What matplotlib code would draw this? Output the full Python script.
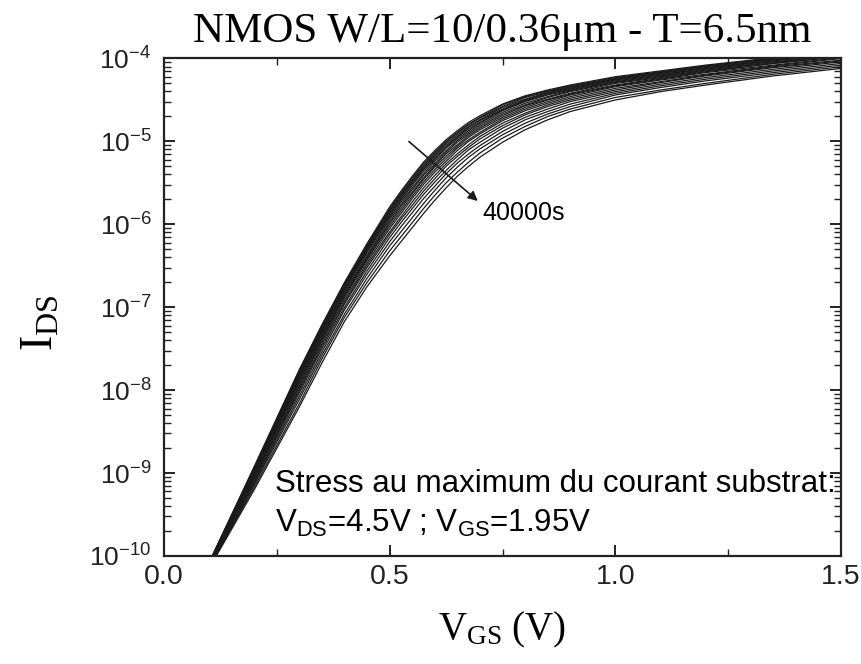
import numpy as np
import matplotlib
matplotlib.use("Agg")
from matplotlib import pyplot as plt
from matplotlib.ticker import MultipleLocator, LogLocator, FormatStrFormatter

#Data: V_GS grid and log10(I_DS) of each stress step (fresh -> 40000s)
vgs = [0.10, 0.20, 0.30, 0.35, 0.40, 0.45, 0.50, 0.525, 0.55, 0.575, 0.60, 0.625,
       0.65, 0.675, 0.70, 0.75, 0.80, 0.85, 0.90, 1.00, 1.10, 1.20, 1.35, 1.50]

log_ids = [
    [-10.08, -8.92, -7.75, -7.21, -6.70, -6.23, -5.79, -5.60, -5.42, -5.25, -5.11, -4.98, -4.87, -4.77, -4.69, -4.55, -4.45, -4.38, -4.32, -4.22, -4.15, -4.08, -3.99, -3.91],
    [-10.08, -8.93, -7.76, -7.22, -6.71, -6.25, -5.81, -5.62, -5.44, -5.27, -5.13, -5.00, -4.89, -4.79, -4.71, -4.56, -4.46, -4.39, -4.33, -4.23, -4.16, -4.09, -4.00, -3.92],
    [-10.08, -8.94, -7.78, -7.24, -6.73, -6.26, -5.83, -5.64, -5.46, -5.29, -5.15, -5.01, -4.90, -4.80, -4.72, -4.58, -4.47, -4.40, -4.34, -4.24, -4.17, -4.09, -4.00, -3.92],
    [-10.09, -8.95, -7.79, -7.25, -6.74, -6.28, -5.84, -5.65, -5.48, -5.31, -5.16, -5.03, -4.92, -4.82, -4.74, -4.59, -4.49, -4.41, -4.35, -4.25, -4.17, -4.10, -4.01, -3.93],
    [-10.09, -8.95, -7.80, -7.27, -6.76, -6.29, -5.86, -5.67, -5.49, -5.32, -5.18, -5.05, -4.94, -4.83, -4.75, -4.61, -4.50, -4.42, -4.36, -4.25, -4.18, -4.11, -4.02, -3.94],
    [-10.09, -8.96, -7.82, -7.28, -6.77, -6.31, -5.88, -5.69, -5.51, -5.34, -5.20, -5.07, -4.95, -4.85, -4.77, -4.62, -4.51, -4.43, -4.37, -4.26, -4.19, -4.12, -4.02, -3.94],
    [-10.09, -8.97, -7.83, -7.29, -6.78, -6.32, -5.90, -5.71, -5.53, -5.36, -5.22, -5.08, -4.97, -4.87, -4.78, -4.63, -4.52, -4.44, -4.38, -4.27, -4.20, -4.12, -4.03, -3.95],
    [-10.10, -8.98, -7.85, -7.31, -6.80, -6.34, -5.92, -5.73, -5.56, -5.39, -5.24, -5.11, -4.99, -4.89, -4.80, -4.65, -4.54, -4.46, -4.39, -4.28, -4.21, -4.13, -4.04, -3.96],
    [-10.10, -8.99, -7.87, -7.33, -6.82, -6.37, -5.94, -5.76, -5.58, -5.41, -5.27, -5.13, -5.01, -4.91, -4.82, -4.67, -4.56, -4.47, -4.40, -4.29, -4.22, -4.14, -4.05, -3.96],
    [-10.10, -9.00, -7.89, -7.35, -6.84, -6.39, -5.97, -5.78, -5.61, -5.44, -5.29, -5.15, -5.04, -4.93, -4.84, -4.69, -4.57, -4.49, -4.42, -4.30, -4.23, -4.15, -4.06, -3.97],
    [-10.10, -9.02, -7.90, -7.37, -6.86, -6.41, -5.99, -5.81, -5.63, -5.46, -5.31, -5.18, -5.06, -4.95, -4.86, -4.71, -4.59, -4.50, -4.43, -4.32, -4.24, -4.16, -4.06, -3.98],
    [-10.11, -9.03, -7.93, -7.39, -6.88, -6.43, -6.02, -5.84, -5.66, -5.49, -5.34, -5.21, -5.08, -4.98, -4.89, -4.73, -4.61, -4.52, -4.44, -4.33, -4.25, -4.17, -4.08, -3.99],
    [-10.11, -9.04, -7.95, -7.41, -6.91, -6.46, -6.05, -5.87, -5.69, -5.52, -5.37, -5.24, -5.11, -5.00, -4.91, -4.75, -4.63, -4.54, -4.46, -4.34, -4.26, -4.19, -4.09, -4.00],
    [-10.12, -9.06, -7.98, -7.44, -6.94, -6.49, -6.09, -5.91, -5.73, -5.56, -5.41, -5.27, -5.15, -5.04, -4.94, -4.78, -4.66, -4.56, -4.48, -4.36, -4.28, -4.20, -4.10, -4.02],
    [-10.12, -9.08, -8.00, -7.47, -6.96, -6.52, -6.12, -5.94, -5.77, -5.60, -5.45, -5.30, -5.18, -5.07, -4.97, -4.81, -4.68, -4.58, -4.50, -4.38, -4.29, -4.21, -4.11, -4.03],
    [-10.12, -9.10, -8.03, -7.50, -7.00, -6.56, -6.16, -5.98, -5.81, -5.64, -5.49, -5.35, -5.22, -5.10, -5.01, -4.84, -4.71, -4.61, -4.52, -4.40, -4.31, -4.23, -4.13, -4.04],
    [-10.13, -9.12, -8.07, -7.54, -7.03, -6.60, -6.21, -6.03, -5.86, -5.69, -5.54, -5.39, -5.26, -5.15, -5.05, -4.88, -4.74, -4.64, -4.55, -4.42, -4.33, -4.25, -4.15, -4.06],
    [-10.14, -9.14, -8.11, -7.58, -7.08, -6.65, -6.26, -6.09, -5.92, -5.75, -5.59, -5.44, -5.31, -5.19, -5.09, -4.92, -4.78, -4.67, -4.58, -4.44, -4.35, -4.27, -4.17, -4.08],
    [-10.14, -9.17, -8.16, -7.62, -7.12, -6.70, -6.32, -6.15, -5.98, -5.81, -5.65, -5.50, -5.37, -5.25, -5.14, -4.96, -4.82, -4.70, -4.61, -4.47, -4.38, -4.30, -4.19, -4.10],
    [-10.15, -9.20, -8.20, -7.67, -7.17, -6.75, -6.38, -6.21, -6.04, -5.87, -5.71, -5.56, -5.42, -5.30, -5.19, -5.01, -4.86, -4.74, -4.64, -4.50, -4.40, -4.32, -4.21, -4.12],
]

title = "NMOS W/L=10/0.36\u03bcm - T=6.5nm"
note_line1 = "Stress au maximum du courant substrat:"
note_line2 = r"$\mathregular{V_{DS}}$=4.5V ; $\mathregular{V_{GS}}$=1.95V"
arrow_label = "40000s"

plt.rcParams['font.family'] = ['Liberation Sans', 'DejaVu Sans']
plt.rcParams['mathtext.fontset'] = 'custom'
plt.rcParams['mathtext.rm'] = 'Liberation Sans'
plt.rcParams['axes.unicode_minus'] = False

fig = plt.figure(figsize=(8.62, 6.64), dpi=100)
ax = fig.add_axes([0.1903, 0.1627, 0.7853, 0.7492])

for row in log_ids:
    ax.plot(vgs, 10**np.array(row), color='#1a1a1a', lw=0.9)

ax.set_yscale('log')
ax.set_xlim(0, 1.5)
ax.set_ylim(1e-10, 1e-4)
ax.xaxis.set_major_locator(MultipleLocator(0.5))
ax.xaxis.set_minor_locator(MultipleLocator(0.25))
ax.yaxis.set_major_locator(LogLocator(base=10, numticks=10))
ax.yaxis.set_minor_locator(LogLocator(base=10, subs=np.arange(2, 10), numticks=20))
ax.xaxis.set_major_formatter(FormatStrFormatter('%.1f'))

ax.tick_params(which='both', direction='in', top=True, right=True, colors='#222222')
ax.tick_params(axis='x', labelsize=20.5)
ax.tick_params(axis='y', labelsize=19)
ax.tick_params(which='major', length=8, width=1.4)
ax.tick_params(axis='x', which='major', pad=6)
ax.tick_params(axis='y', which='major', pad=9)
ax.tick_params(which='minor', length=5, width=1.0)
for s in ax.spines.values():
    s.set_linewidth(1.6)
    s.set_color('#222222')

#Titles and axis labels (serif)
ax.set_title(title, fontsize=31, family='Liberation Serif', pad=12)
ax.set_xlabel(r'$\mathregular{V_{GS}}$ (V)', fontsize=28, family='Liberation Serif', labelpad=14)
ax.set_ylabel(r'$\mathregular{I_{DS}}$', fontsize=33, family='Liberation Serif')
ax.yaxis.set_label_coords(-0.15, 0.47)

#Arrow for stress time
ax.annotate('', xy=(0.70, 10**-5.74), xytext=(0.538, 10**-4.98),
            arrowprops=dict(arrowstyle='-|>', lw=1.2, color='#1a1a1a', mutation_scale=14))
ax.text(0.705, 10**-5.86, arrow_label, fontsize=18, va='center', ha='left')

ax.text(0.245, 10**-9.225, note_line1, fontsize=22.5, va='baseline', ha='left')
ax.text(0.245, 10**-9.71, note_line2, fontsize=22.5, va='baseline', ha='left')

plt.savefig('out.png', dpi=100)
